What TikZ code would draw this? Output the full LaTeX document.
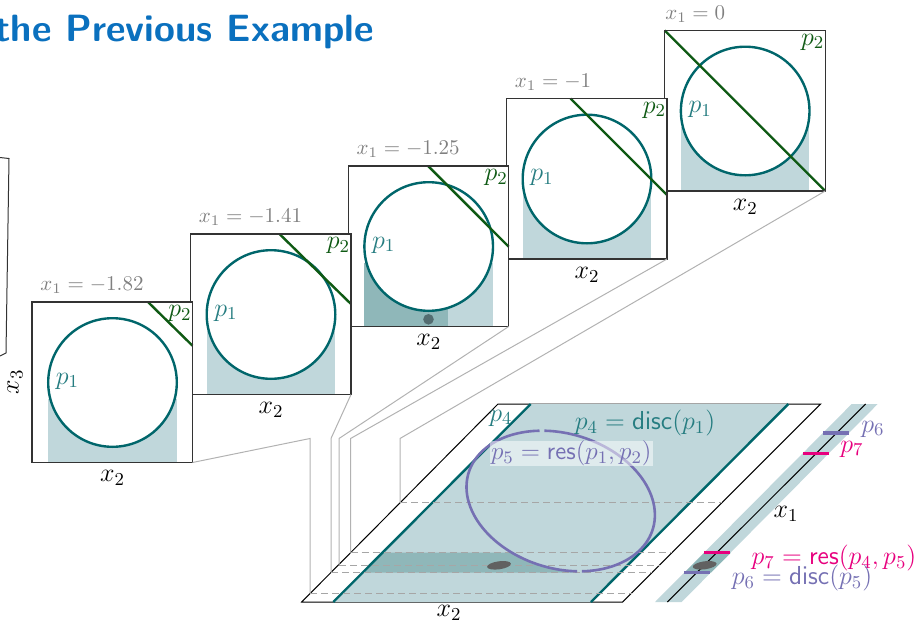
\documentclass[tikz,border=0pt]{standalone}
\usepackage{fix-cm}
\usepackage{amsmath, amssymb}
\usetikzlibrary{calc}
\definecolor{tealline}{HTML}{00666B}
\definecolor{tealshade}{HTML}{C0D7DB}
\definecolor{tealdark}{HTML}{8FB7B9}
\definecolor{greenline}{HTML}{0F5A14}
\definecolor{purpleline}{HTML}{7570B3}
\definecolor{pinkline}{HTML}{E7007E}
\definecolor{titleblue}{HTML}{0A70BE}
\definecolor{dotgray}{HTML}{536C70}
\tikzset{
  sliceframe/.style={draw=black!80, line width=0.55pt},
  circleline/.style={draw=tealline, line width=1.2pt},
  cutline/.style={draw=greenline, line width=1.2pt},
  linkline/.style={draw=black!30, line width=0.5pt},
  levelline/.style={draw=black!35, line width=0.5pt, dash pattern=on 3.5pt off 2pt},
  blob/.style={fill=black!62, draw=none},
  barpurple/.style={draw=purpleline, line width=1.6pt},
  barpink/.style={draw=pinkline, line width=1.6pt},
  lab/.style={font=\fontsize{13}{15}\selectfont, inner sep=0pt},
}
\begin{document}
\begin{tikzpicture}[x=0.5pt, y=-0.5pt]
  \useasboundingbox (0,0) rectangle (918,622);

  % Titre
  \node[anchor=base east, font=\fontsize{19}{22}\selectfont\bfseries\sffamily, text=titleblue, inner sep=0pt] (title) at (374,41) {the Previous Example};

  % Bord de la boite coupee
  \draw[line width=0.5pt, black!80] (0,157.5) -- (9,158.5) -- (6,353) -- (0,356);
  \node[lab, rotate=90] (xthree) at (15,382) {$x_3$};

  % Coupes, de la derniere a la premiere
  \foreach \i/\ox/\oy/\a/\b/\val in {5/664.7/30.5/0/160.5/0, 4/506.5/98.5/64/96.5/-1, 3/348.2/166/80/80.7/-1.25, 2/190.5/234/89/70/-1.41, 1/32/302/116/43.7/-1.82} {
    \begin{scope}[shift={(\ox,\oy)}]
      \fill[white] (0,0) rectangle (160.5,160.5);
      \fill[tealshade] (16,96.5) rectangle (144.5,160.5);
      \ifnum\i=3
        \fill[tealdark] (16,96.5) rectangle (99.7,160.5);
      \fi
      \draw[circleline, fill=white] (80.5,80.5) circle[radius=64.3];
      \ifnum\i=3
        \fill[dotgray] (80.3,153.3) circle[radius=5.3];
      \fi
      \draw[cutline] (\a,0) -- (160.5,\b);
      \draw[sliceframe] (0,0) rectangle (160.5,160.5);
      \coordinate (corner\i) at (160.5,160.5);
      \node[lab, text=greenline] (ptwo\i) at (148,11.5) {$p_2$};
      \node[lab, text=tealline!85] (pone\i) at (35.5,79) {$p_1$};
      \node[lab, font=\fontsize{10.5}{13}\selectfont, text=black!50] (xone\i) at (\ifnum\i>3 \ifnum\i=4 46.5\else 30.5\fi\else 60\fi,-16.5) {$x_1 = \val$};
      \node[lab] (xtwo\i) at (80.5,176) {$x_2$};
    \end{scope}
  }

  % Plan du bas
  \draw[line width=0.5pt, black, fill=white] (301.7,602) -- (622.7,602) -- (820.7,404) -- (498,404) -- cycle;
  \fill[tealshade] (333.3,602) -- (591,602) -- (788.3,404) -- (530.7,404) -- cycle;
  \fill[tealdark] (382.6,552.7) -- (520,552.7) -- (580,572.7) -- (362.6,572.7) -- cycle;
  \fill[tealshade] plot[domain=0:360, samples=80, smooth cycle] ({560.7+94.2*cos(\x)},{501+70.3*cos(\x-78.5)});
  \draw[tealline, line width=1.2pt] (333.3,602) -- (530.7,404);
  \draw[tealline, line width=1.2pt] (591,602) -- (788.3,404);

  % Renvois et niveaux
  \foreach \i/\bx/\ey in {1/310/593, 2/331/572.7, 3/339/565, 4/350.6/552.7, 5/400/502.7} {
    \coordinate (bend\i) at (\bx,438.5);
    \coordinate (foot\i) at (\bx,\ey);
    \coordinate (rim\i) at (622.7+602-\ey,\ey);
    \draw[linkline] (corner\i) -- (bend\i) -- (foot\i);
    \draw[levelline] (foot\i) -- (rim\i);
  }
  \fill[blob, rotate around={8:(499,565.3)}] (499,565.3) ellipse[x radius=12, y radius=4];

  % Courbe du resultant
  \draw[purpleline, line width=1.3pt] plot[domain=80:257, samples=60, smooth] ({560.7+94.2*cos(\x)},{501+70.3*cos(\x-78.5)});
  \draw[purpleline, line width=1.3pt] plot[domain=260:437, samples=60, smooth] ({560.7+94.2*cos(\x)},{501+70.3*cos(\x-78.5)});

  % Etiquettes du plan
  \node[lab, text=tealline!85] (pfour) at (501,418) {$p_4$};
  \node[lab, text=tealline!85] (discfour) at (645,423) {$p_4 = \mathsf{disc}(p_1)$};
  \node[lab, font=\fontsize{12.6}{15}\selectfont, text=purpleline, fill=white, fill opacity=0.5, text opacity=1, minimum width=81.5pt, minimum height=12.5pt] (resfive) at (571.3,453.5) {$p_5 = \mathsf{res}(p_1,p_2)$};
  \node[lab] (xtwoplane) at (449,613) {$x_2$};

  % Axe x1
  \fill[tealshade] (655,602) -- (681.7,602) -- (877.7,404) -- (851.7,404) -- cycle;
  \fill[tealdark] (704.3,552.7) -- (731,552.7) -- (711,572.7) -- (684.3,572.7) -- cycle;
  \draw[line width=0.5pt, black] (667.3,602) -- (865.7,404);
  \fill[blob, rotate around={8:(704.7,565.3)}] (704.7,565.3) ellipse[x radius=12, y radius=4];
  \draw[barpurple] (823.3,433) -- (849.3,433);
  \draw[barpink] (803.3,453.3) -- (829,453.3);
  \draw[barpink] (704,552.3) -- (730,552.3);
  \draw[barpurple] (684,572.7) -- (710,572.7);
  \node[lab, text=purpleline] (psix) at (873,429) {$p_6$};
  \node[lab, text=pinkline] (pseven) at (852,449) {$p_7$};
  \node[lab] (xoneaxis) at (786,514) {$x_1$};
  \node[lab, text=pinkline] (ressev) at (834,558) {$p_7 = \mathsf{res}(p_4,p_5)$};
  \node[lab, text=purpleline] (discsix) at (802,578) {$p_6 = \mathsf{disc}(p_5)$};
\end{tikzpicture}
\end{document}
